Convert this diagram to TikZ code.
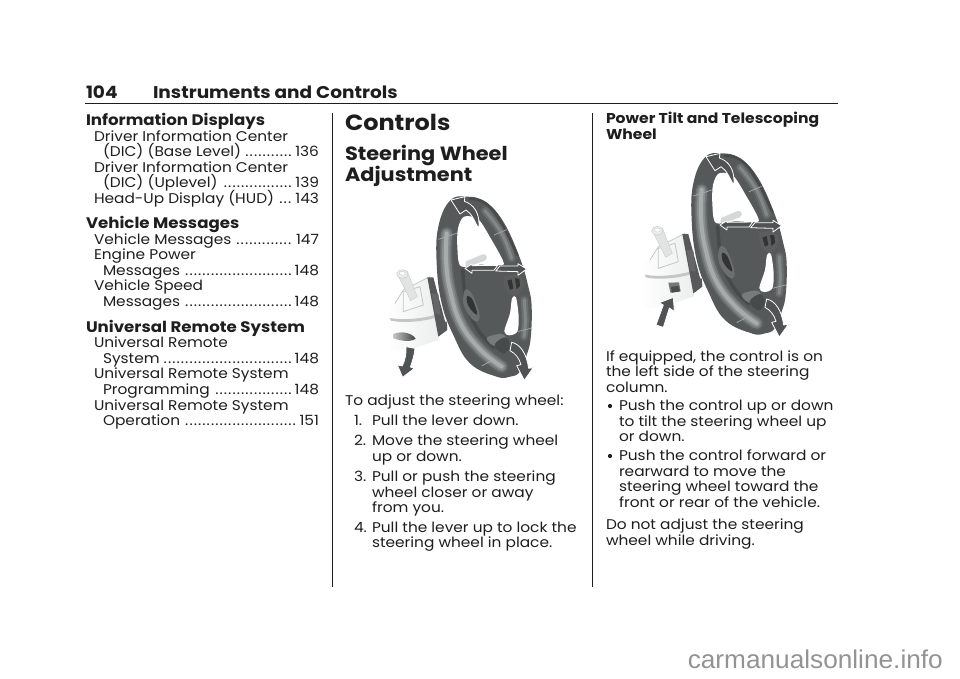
\documentclass[tikz,border=0pt]{standalone}
\usepackage{fontspec}
\setmainfont[FakeStretch=1.09]{Poppins}
\newfontfamily\wmfont[FakeStretch=1.02]{Liberation Sans}
\newcounter{tn}
\definecolor{ink}{HTML}{1E1E1E}
\definecolor{ringd}{HTML}{474A4A}
\definecolor{ringm}{HTML}{6C6F6F}
\definecolor{ringl}{HTML}{A8ABAB}
\definecolor{arrowc}{HTML}{505353}
\definecolor{hubc}{HTML}{565959}
\definecolor{colm}{HTML}{ECEDED}
\definecolor{cold}{HTML}{C4C6C6}
\tikzset{
  txt/.style={anchor=base west,inner sep=0pt,outer sep=0pt,text=ink},
  body/.style={txt,font=\fontsize{14.1}{16}\selectfont},
  subh/.style={txt,font=\bfseries\fontsize{14.3}{16}\selectfont},
  h3/.style={txt,font=\bfseries\fontsize{15.25}{18}\selectfont},
  h2/.style={txt,font=\bfseries\fontsize{19.15}{22}\selectfont},
  h1/.style={txt,font=\bfseries\fontsize{22}{26}\selectfont},
  hd/.style={txt,font=\bfseries\fontsize{17}{20}\selectfont},
  rule/.style={draw=ink,line width=1pt},
  bull/.style={circle,fill=ink,inner sep=0pt,minimum size=4.2pt},
  blockarrow/.style={fill=arrowc,draw=white,line width=0.8pt,line join=round},
  seam/.style={draw=ringl,line width=0.7pt},
  soft/.style={line cap=round,line join=round}
}
\newcommand{\T}[4][body]{\stepcounter{tn}\node[#1] (t\thetn) at (#2,#3) {#4};}
\newcommand{\TD}[5]{\stepcounter{tn}\node[body] (t\thetn) at (#1,#2) {\hbox to #3pt{#4\,\leaders\hbox to 4.3pt{\hss.\hss}\hfill\,#5}};}
\newcommand{\outerpath}{plot[smooth cycle,tension=.7] coordinates {(240,32)(290,20)(345,35)(400,95)(450,205)(475,290)(485,350)(482,445)(470,495)(450,545)(420,560)(380,560)(300,520)(250,435)(215,340)(200,220)(205,110)}}
\newcommand{\softband}[1]{%
  \draw[soft,ringd!40!ringm,line width=14pt] #1;
  \draw[soft,ringm!85!ringl,line width=11pt] #1;
  \draw[soft,ringm!50!ringl,line width=7.5pt] #1;
  \draw[soft,ringl,line width=4pt] #1;
}
\newcommand{\softdim}[1]{%
  \draw[soft,ringd!50!ringm,line width=11pt] #1;
  \draw[soft,ringm,line width=7pt] #1;
  \draw[soft,ringm!60!ringl,line width=3pt] #1;
}
\newcommand{\wheelparts}{%
  \fill[hubc] (172,262) -- (190,262) -- (232,420) -- (205,440) -- cycle;
  \fill[black!60] (185,310) -- (205,312) -- (212,375) -- (195,372) -- cycle;
  \fill[black!65] (215,395) -- (230,395) -- (232,415) -- (218,415) -- cycle;
  \fill[hubc] \outerpath;
  % upper hole
  \fill[white] plot[smooth cycle,tension=.5] coordinates {(282,80)(325,88)(365,150)(398,210)(395,226)(330,224)(272,228)(262,170)(264,115)};
  % lower right hole
  \fill[white] plot[smooth cycle,tension=.5] coordinates {(438,322)(446,380)(442,425)(418,436)(403,424)(420,370)(426,325)};
  % stalk seen through the upper hole
  \fill[colm!80!gray] (288,214) -- (338,193) .. controls (350,190) and (356,205) .. (344,212) -- (300,228) -- (286,228) -- cycle;
  % ring shading
  \softband{plot[smooth,tension=.7] coordinates {(230,130)(228,210)(240,300)(272,400)(332,480)(395,530)}}
  \softdim{plot[smooth,tension=.7] coordinates {(345,62)(395,130)(425,205)}}
  \softdim{plot[smooth,tension=.7] coordinates {(463,330)(466,395)(462,440)}}
  \draw[soft,ringd,line width=3.5pt] plot[smooth,tension=.7] coordinates {(278,240)(290,340)(324,420)(372,472)};
  \draw[soft,ringd,line width=2.5pt] plot[smooth,tension=.7] coordinates {(300,26)(350,42)(395,100)(442,195)};
  \draw[seam] (205,148) -- (260,130);
  \draw[seam] (372,135) -- (410,119);
  \draw[seam] (442,425) -- (482,415);
  \draw[seam] (335,528) -- (372,508);
  % hub details
  \fill[ringm] plot[smooth cycle,tension=.6] coordinates {(285,300)(305,310)(328,370)(322,395)(300,380)(280,340)};
  \fill[ringd!70!black] plot[smooth cycle,tension=.6] coordinates {(292,318)(308,330)(322,372)(308,365)(292,340)};
  \fill[ringm!80!ringl] plot[smooth cycle,tension=.6] coordinates {(352,442)(396,432)(412,455)(392,472)(362,462)};
  \fill[ringd] plot[smooth cycle,tension=.6] coordinates {(375,462)(405,442)(420,465)(405,490)(385,482)};
  % right spoke
  \fill[ringm!85!black] plot[smooth cycle,tension=.6] coordinates {(402,262)(445,256)(462,285)(440,316)(412,305)};
  \fill[ringd!70!black] (412,272) -- (425,268) -- (430,295) -- (420,300) -- cycle;
  \fill[ringd!70!black] (435,265) -- (448,266) -- (450,288) -- (440,298) -- cycle;
  % direction arrows
  \path[blockarrow] (243,30) -- (285,20) -- (283,34) .. controls (310,42) and (332,70) .. (326,116) .. controls (315,95) and (305,70) .. (288,60) -- (270,72) -- cycle;
  \path[blockarrow] (285,235) -- (306,222) -- (306,227) -- (383,226) -- (372,241) -- (306,241) -- (306,250) -- cycle;
  \path[blockarrow] (470,237) -- (444,221) -- (444,228) -- (390,228) -- (377,243) -- (444,245) -- (444,256) -- cycle;
  \path[blockarrow] (425,457) .. controls (450,462) and (470,490) .. (476,535) -- (490,533) -- (463,571) -- (440,527) -- (453,524) .. controls (448,505) and (436,490) .. (420,482) -- cycle;
}
\newcommand{\colbody}{%
  \shade[left color=white,right color=colm] (50,345) -- (75,340) -- (100,300) -- (180,260) -- (205,420) -- (205,450) -- (130,475) -- (70,485) -- (50,480) -- cycle;
  \draw[cold,line width=.8pt] (75,340) -- (100,300) -- (180,260);
  \fill[cold] (60,384) .. controls (100,392) and (160,385) .. (195,375) -- (197,383) .. controls (160,395) and (100,400) .. (62,392) -- cycle;
  \draw[cold,line width=.8pt] (100,305) -- (150,290) -- (160,345) -- (100,365) -- cycle;
  \fill[colm!75!cold,draw=gray!40,line width=.4pt] (84,256) -- (112,244) -- (142,320) -- (122,332) -- cycle;
  \fill[colm,draw=gray!40,line width=.5pt] (97,252) ellipse[x radius=17,y radius=13];
  \fill[white,draw=gray!40,line width=.4pt] (97,250) ellipse[x radius=9,y radius=6];
}
\begin{document}
\begin{tikzpicture}[x=1pt,y=-1pt]
\useasboundingbox (0,0) rectangle (960,678);
\fill[white] (0,0) rectangle (960,678);
% header
\T[hd]{86}{98.5}{104}
\T[hd]{153}{98.5}{Instruments and Controls}
\coordinate (hl) at (85,103.5); \coordinate (hr) at (838,103.5);
\draw[rule] (hl) -- (hr);
\coordinate (v1a) at (332.5,113); \coordinate (v1b) at (332.5,587);
\coordinate (v2a) at (592.5,113); \coordinate (v2b) at (592.5,587);
\draw[rule] (v1a) -- (v1b); \draw[rule] (v2a) -- (v2b);
% left column
\T[h3]{86}{125}{Information Displays}
\T{94}{141}{Driver Information Center}
\TD{103}{156.6}{216}{(DIC) (Base Level)}{136}
\T{94}{172.2}{Driver Information Center}
\TD{103}{187.8}{216}{(DIC) (Uplevel)}{139}
\TD{94}{203.4}{225}{Head-Up Display (HUD)}{143}
\T[h3]{86}{228.5}{Vehicle Messages}
\TD{94}{244.1}{225}{Vehicle Messages}{147}
\T{94}{259.7}{Engine Power}
\TD{103}{275.3}{216}{Messages}{148}
\T{94}{290.9}{Vehicle Speed}
\TD{103}{306.5}{216}{Messages}{148}
\T[h3]{86}{332}{Universal Remote System}
\T{94}{347.6}{Universal Remote}
\TD{103}{363.2}{216}{System}{148}
\T{94}{378.8}{Universal Remote System}
\TD{103}{394.4}{216}{Programming}{148}
\T{94}{410}{Universal Remote System}
\TD{103}{425.6}{216}{Operation}{151}
% middle column
\T[h1]{345}{130}{Controls}
\T[h2]{345}{160}{Steering Wheel}
\T[h2]{345}{181}{Adjustment}
\T{345}{405}{To adjust the steering wheel:}
\T{354}{425}{1.}\T{372}{425}{Pull the lever down.}
\T{354}{445}{2.}\T{372}{445}{Move the steering wheel}
\T{372}{461}{up or down.}
\T{354}{481}{3.}\T{372}{481}{Pull or push the steering}
\T{372}{497}{wheel closer or away}
\T{372}{512}{from you.}
\T{354}{532}{4.}\T{372}{532}{Pull the lever up to lock the}
\T{372}{547.5}{steering wheel in place.}
% right column
\T[subh]{606}{123.5}{Power Tilt and Telescoping}
\T[subh]{606}{139}{Wheel}
\T{606}{361}{If equipped, the control is on}
\T{606}{376.5}{the left side of the steering}
\T{606}{392}{column.}
\node[bull] (bul1) at (610,406) {};
\T{619}{410.5}{Push the control up or down}
\T{619}{426}{to tilt the steering wheel up}
\T{619}{441.5}{or down.}
\node[bull] (bul2) at (610,456) {};
\T{619}{460.5}{Push the control forward or}
\T{619}{476}{rearward to move the}
\T{619}{491.5}{steering wheel toward the}
\T{619}{507.5}{front or rear of the vehicle.}
\T{606}{529.5}{Do not adjust the steering}
\T{606}{545}{wheel while driving.}
% wheel 1
\begin{scope}[shift={(370,190)},x=.3333pt,y=-.3333pt]
  \colbody
  \shade[left color=cold,right color=black!75] (70,432) .. controls (95,422) and (125,428) .. (137,446) .. controls (120,458) and (90,452) .. (70,445) -- cycle;
  \wheelparts
  \path[blockarrow] (108,470) -- (135,475) .. controls (133,495) and (128,512) .. (121,531) -- (133,535) -- (98,562) -- (82,525) -- (97,528) .. controls (105,510) and (110,490) .. (108,470) -- cycle;
\end{scope}
% wheel 2
\begin{scope}[shift={(625,146.7)},x=.3333pt,y=-.3333pt]
  \colbody
  \wheelparts
  \fill[cold!60!black] (130,408) -- (162,407) -- (167,434) -- (136,438) -- cycle;
  \fill[black!70] (138,420) -- (160,418) -- (165,434) -- (140,438) -- cycle;
  \path[blockarrow] (145,452) -- (148,494) -- (133,484) -- (115,542) -- (93,535) -- (115,475) -- (103,468) -- cycle;
\end{scope}
% watermark
\node[anchor=base east,inner sep=0pt,text=gray!85,font=\wmfont\fontsize{25.7}{28}\selectfont] (wm) at (943,668) {carmanualsonline.info};
\end{tikzpicture}
\end{document}
